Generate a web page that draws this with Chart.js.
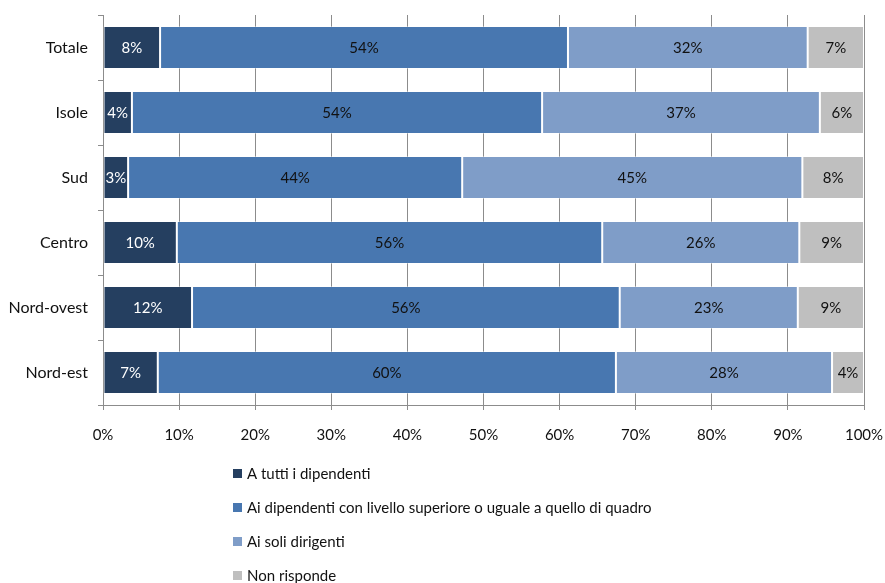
<!DOCTYPE html>
<html>
<head>
<meta charset="utf-8">
<script src="https://cdn.jsdelivr.net/npm/chart.js@4"></script>
<style>
  html, body { margin: 0; padding: 0; background: #fff; }
  #wrap { width: 885px; height: 583px; }
</style>
</head>
<body>
<div id="wrap"><canvas id="myChart" width="885" height="583"></canvas></div>
<script>
const categories = ["Totale", "Isole", "Sud", "Centro", "Nord-ovest", "Nord-est"];
const seriesNames = [
  "A tutti i dipendenti",
  "Ai dipendenti con livello superiore o uguale a quello di quadro",
  "Ai soli dirigenti",
  "Non risponde",
];
const tuttiDipendenti = [7.5, 3.8, 3.3, 9.7, 11.7, 7.2];
const dipendentiQuadro = [53.6, 53.9, 43.9, 55.9, 56.2, 60.2];
const soliDirigenti = [31.5, 36.5, 44.7, 25.9, 23.4, 28.4];
const nonRisponde = [7.4, 5.8, 8.1, 8.5, 8.7, 4.2];
const colors = ["#253f60", "#4877b0", "#7f9dc8", "#bfbfbf"];
const labelColors = ["#ffffff", "#111111", "#111111", "#111111"];

const FONT = "Lato, 'Open Sans', sans-serif";

// value labels in the middle of each segment
const segmentLabels = {
  id: "segmentLabels",
  afterDatasetsDraw(chart) {
    const c = chart.ctx;
    c.save();
    c.font = "15px " + FONT;
    c.textAlign = "center";
    c.textBaseline = "middle";
    chart.data.datasets.forEach((ds, i) => {
      chart.getDatasetMeta(i).data.forEach((bar, j) => {
        const mid = (bar.x + bar.base) / 2;
        c.fillStyle = labelColors[i];
        c.fillText(Math.round(ds.data[j]) + "%", mid, bar.y + 1);
      });
    });
    c.restore();
  },
};

// vertical legend under the plot
const vertLegend = {
  id: "vertLegend",
  afterDraw(chart) {
    const c = chart.ctx;
    c.save();
    c.font = "15px " + FONT;
    c.textBaseline = "middle";
    c.textAlign = "left";
    seriesNames.forEach((name, i) => {
      const y = 474 + i * 34;
      c.fillStyle = colors[i];
      c.fillRect(233, y - 5, 9, 9);
      c.fillStyle = "#111";
      c.fillText(name, 247, y);
    });
    c.restore();
  },
};

const data = [tuttiDipendenti, dipendentiQuadro, soliDirigenti, nonRisponde];

new Chart(document.getElementById("myChart"), {
  type: "bar",
  data: {
    labels: categories,
    datasets: seriesNames.map((name, i) => ({
      label: name,
      data: data[i],
      backgroundColor: colors[i],
      borderColor: "rgba(255,255,255,0.35)",
      borderWidth: 1,
      borderSkipped: false,
      barPercentage: 0.66,
      categoryPercentage: 1,
    })),
  },
  options: {
    indexAxis: "y",
    responsive: false,
    animation: false,
    layout: { padding: { top: 15, right: 21, bottom: 128, left: 0 } },
    plugins: { legend: { display: false }, tooltip: { enabled: false } },
    scales: {
      x: {
        stacked: true,
        min: 0,
        max: 100,
        ticks: {
          stepSize: 10,
          callback: (v) => v + "%",
          color: "#111",
          font: { family: FONT, size: 15 },
          padding: 16,
        },
        grid: { color: "#8c8c8c", lineWidth: 1, tickLength: 5 },
        border: { color: "#8c8c8c" },
        afterFit: (s) => { s.height = 50; s.paddingLeft = 0; s.paddingRight = 0; },
      },
      y: {
        stacked: true,
        ticks: {
          color: "#111",
          font: { family: FONT, size: 16 },
          padding: 10,
        },
        grid: { drawOnChartArea: false, offset: true, tickLength: 5, color: "#8c8c8c" },
        border: { color: "#8c8c8c" },
        afterFit: (s) => { s.width = 103; s.paddingTop = 0; s.paddingBottom = 0; },
      },
    },
  },
  plugins: [segmentLabels, vertLegend],
});
</script>
</body>
</html>
